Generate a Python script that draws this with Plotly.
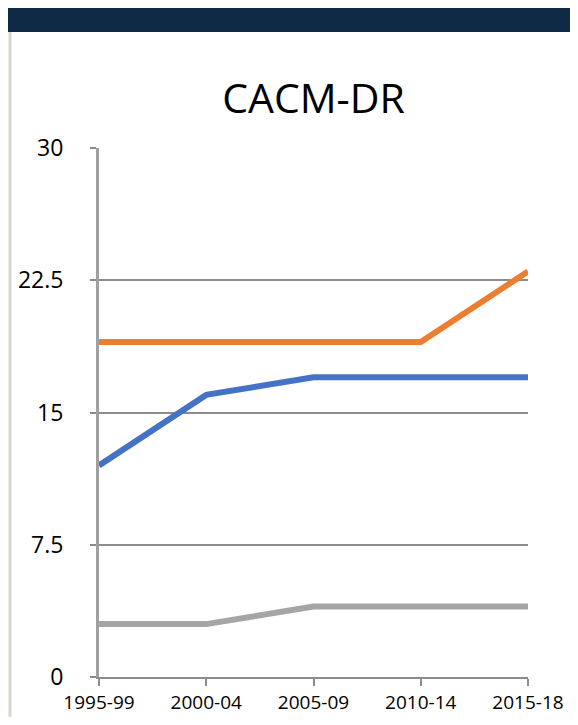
import plotly.graph_objects as go

periods = ["1995-99", "2000-04", "2005-09", "2010-14", "2015-18"]
orange_vals = [19, 19, 19, 19, 23]
blue_vals = [12, 16, 17, 17, 17]
gray_vals = [3, 3, 4, 4, 4]
y_ticks = [0, 7.5, 15, 22.5, 30]
y_tick_text = ["0", "7.5", "15", "22.5", "30"]

OFF = 8  # page body margin
W, H = 578 - OFF, 725 - 2 * OFF
L, R, T, B = 99 - OFF, 528 - OFF, 148 - OFF, 677 - OFF

def px(x):
    return (x - L) / (R - L)

def py(y):
    return (B - y) / (B - T)

fig = go.Figure()
for vals, col in [(gray_vals, "#A5A5A5"), (blue_vals, "#4472C4"), (orange_vals, "#ED7D31")]:
    fig.add_trace(go.Scatter(x=periods, y=vals, mode="lines",
                             line=dict(color=col, width=6), showlegend=False,
                             hoverinfo="skip"))

shapes = [
    dict(type="rect", xref="paper", yref="paper", x0=px(0), x1=px(W), y0=py(H), y1=py(0),
         fillcolor="#EEEBE4", line=dict(width=0), layer="below"),
    dict(type="rect", xref="paper", yref="paper", x0=px(1), x1=px(W), y0=py(H), y1=py(24),
         fillcolor="#D8D5CF", line=dict(width=0), layer="below"),
    dict(type="rect", xref="paper", yref="paper", x0=px(3.5), x1=px(W), y0=py(H), y1=py(24),
         fillcolor="#FFFFFF", line=dict(width=0), layer="below"),
    dict(type="rect", xref="paper", yref="paper", x0=px(0), x1=px(W), y0=py(24), y1=py(-2),
         fillcolor="#0E2A45", line=dict(width=0), layer="below"),
]

fig.update_layout(
    width=W, height=H,
    margin=dict(l=L, r=W - R, t=T, b=H - B, autoexpand=False),
    paper_bgcolor="#FFFFFF",
    plot_bgcolor="rgba(0,0,0,0)",
    font=dict(family="Open Sans", color="#000000", size=19),
    title=dict(text="CACM-DR", x=0.5, xref="paper", xanchor="center",
               y=1 - (99 - OFF) / H, yref="container", yanchor="middle",
               font=dict(family="Open Sans", size=41, color="#000000")),
    shapes=shapes,
    xaxis=dict(type="category", range=[0, 4], showgrid=False, zeroline=False,
               automargin=False,
               showline=True, linecolor="#8C8C8C", linewidth=2,
               ticks="outside", ticklen=7, tickwidth=2, tickcolor="#8C8C8C",
               tickfont=dict(size=19), ticklabelstandoff=0),
    yaxis=dict(range=[0, 30], tickvals=y_ticks, ticktext=y_tick_text,
               automargin=False,
               showgrid=True, gridcolor="#8C8C8C", gridwidth=2, zeroline=False,
               showline=True, linecolor="#A0A0A0", linewidth=3,
               ticks="outside", ticklen=6, tickwidth=2, tickcolor="#8C8C8C",
               tickfont=dict(size=23), ticklabelstandoff=22),
)

fig.write_html("out.html")
